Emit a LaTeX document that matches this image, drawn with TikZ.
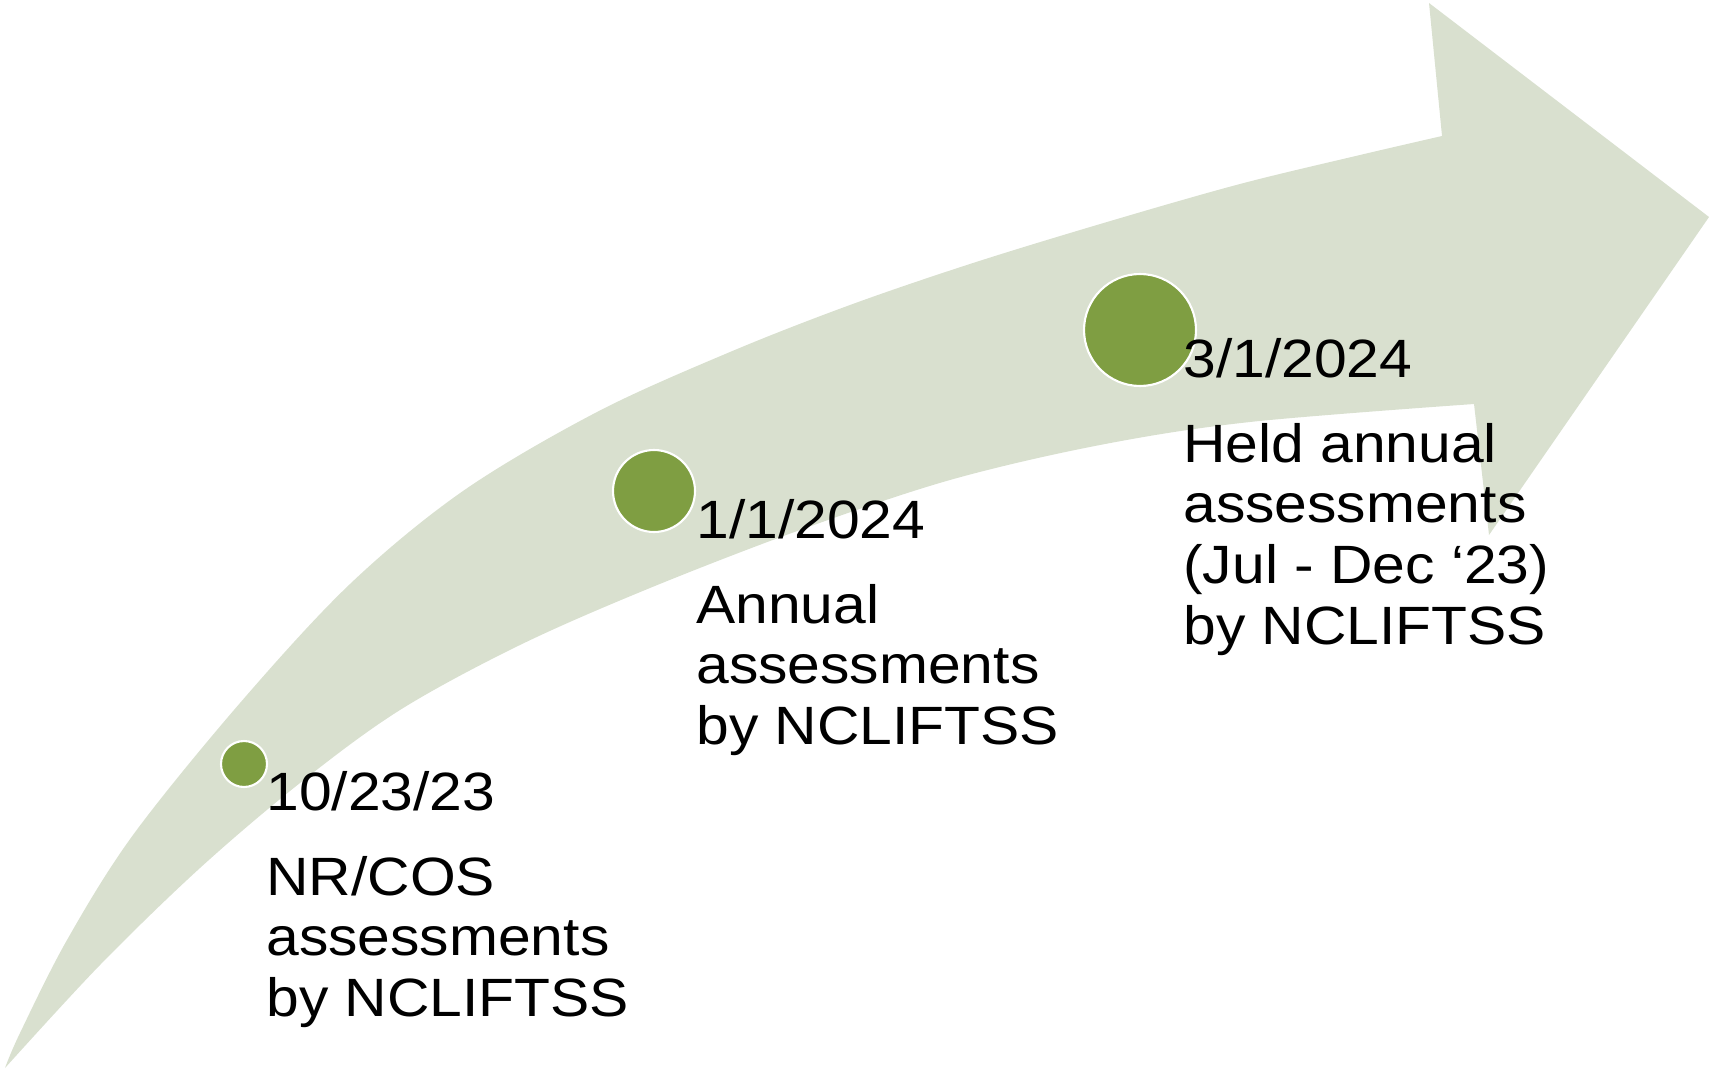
\documentclass[tikz,border=0pt]{standalone}
\usepackage{fontspec}
\setmainfont{Liberation Sans}[FakeStretch=1.09]
\definecolor{arrowfill}{HTML}{D9E0CF}
\definecolor{dotfill}{HTML}{7F9E42}
\begin{document}
\begin{tikzpicture}[x=0.02cm,y=-0.02cm,
  dot/.style={circle,fill=dotfill,draw=white,line width=1.2pt,inner sep=0pt},
  datelbl/.style={anchor=base west,inner sep=0pt,font=\fontsize{30.7}{34.6}\selectfont},
  bodylbl/.style={anchor=base west,inner sep=0pt,font=\fontsize{30.7}{34.6}\selectfont}]
\useasboundingbox (0,0) rectangle (1709,1071);
\fill[arrowfill] plot[smooth,tension=0.55] coordinates {(5,1068) (20,1033) (67,940) (133,835) (240,703) (350,584) (463,491) (597,412) (730,352) (850,305) (973,263) (1107,222) (1240,184) (1360,155) (1442,136)}
  -- (1429,3) -- (1709,217) -- (1489,535) -- (1474,404)
  -- plot[smooth,tension=0.55] coordinates {(1474,404) (1250,422) (1100,445) (950,480) (800,530) (650,588) (520,645) (400,710) (300,783) (200,868) (100,965) (5,1068)} -- cycle;
\node[dot,minimum size=0.92cm] (c1) at (244,764) {};
\node[dot,minimum size=1.64cm] (c2) at (654,491) {};
\node[dot,minimum size=2.24cm] (c3) at (1140,330) {};
\node[datelbl] (d1) at (266,810) {10/23/23};
\node[bodylbl] (b1) at (266,895) {\vtop{\hbox{NR/COS}\hbox{assessments}\hbox{by NCLIFTSS}}};
\node[datelbl] (d2) at (696,538) {1/1/2024};
\node[bodylbl] (b2) at (696,623) {\vtop{\hbox{Annual}\hbox{assessments}\hbox{by NCLIFTSS}}};
\node[datelbl] (d3) at (1183,377) {3/1/2024};
\node[bodylbl] (b3) at (1183,462) {\vtop{\hbox{Held annual}\hbox{assessments}\hbox{(Jul - Dec ‘23)}\hbox{by NCLIFTSS}}};
\end{tikzpicture}
\end{document}
